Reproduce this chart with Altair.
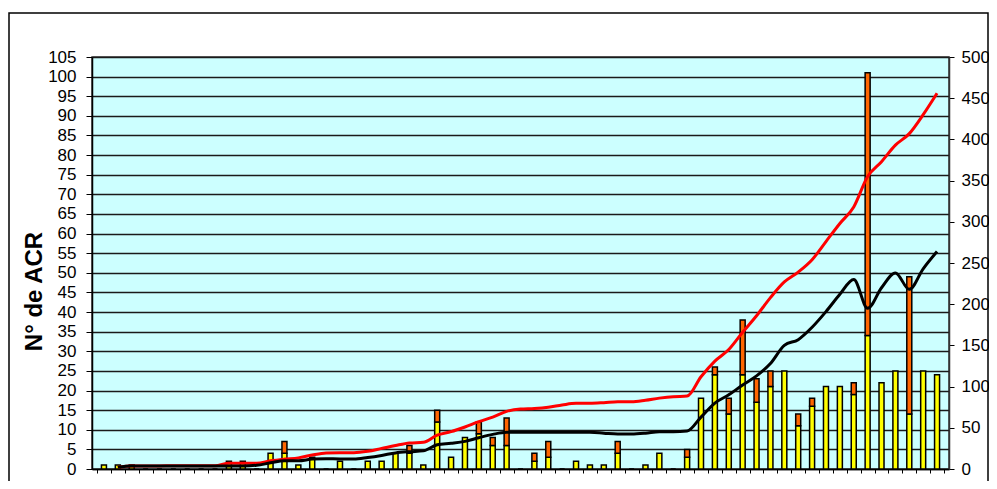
import altair as alt
import pandas as pd

# ---- data ----
yellow = [1, 1, 1, 0, 0, 0, 0, 0, 0, 2,
          2, 0, 4, 4, 1, 3, 0, 2, 0, 2,
          2, 4, 4, 1, 12, 3, 8, 9, 6, 6,
          0, 2, 3, 0, 2, 1, 1, 4, 0, 1,
          4, 0, 3, 18, 24, 14, 24, 17, 21, 25,
          11, 16, 21, 21, 19, 34, 22, 25, 14, 25,
          24]
orange = [0, 0, 0, 0, 0, 0, 0, 0, 0, 0,
          0, 0, 0, 3, 0, 0, 0, 0, 0, 0,
          0, 0, 2, 0, 3, 0, 0, 3, 2, 7,
          0, 2, 4, 0, 0, 0, 0, 3, 0, 0,
          0, 0, 2, 0, 2, 4, 14, 6, 4, 0,
          3, 2, 0, 0, 3, 67, 0, 0, 35, 0,
          0]
# lines (right axis), categories 2..61
red_line = [2, 3.6, 3.6, 3.6, 4, 4, 4, 4, 7, 7,
            7, 10, 12, 13.5, 17, 19.5, 19.8, 19.8, 21.5, 25,
            28.5, 31.5, 32.4, 41, 45.3, 51, 57.4, 63, 70, 72.8,
            73.5, 75, 77.7, 79.7, 79.7, 80.5, 81.7, 81.7, 83.5, 86,
            87.8, 88.5, 112, 131, 145, 166, 186, 208, 227, 239,
            254, 276, 298, 318, 355, 373, 393, 407, 430, 456]
black_line = [2, 3.6, 3.6, 3.6, 3.6, 3.6, 3.6, 3.6, 3.6, 3.6,
              4.5, 7.5, 10, 10, 12, 12.5, 12.1, 12.1, 14, 16.5,
              19.5, 21, 22, 29.5, 31.2, 33.5, 38, 42, 44.5, 44.5,
              44.5, 44.5, 44.5, 44.5, 44.5, 43.5, 42.5, 42.5, 43.5, 45.3,
              45.3, 46, 63, 80, 90, 102, 113, 128, 150, 157,
              172, 191, 212, 230, 195, 220, 238, 218, 243, 264]
left_ticks = list(range(0, 106, 5))
right_ticks = list(range(0, 501, 50))
y_title = "N° de ACR"

n_cat = len(yellow)
bars_df = pd.DataFrame({"cat": list(range(n_cat)), "yellow": yellow, "orange": orange})
bars_df["pos"] = bars_df["cat"] + 0.5
bars_df["base"] = 0
bars_df["top"] = bars_df["yellow"] + bars_df["orange"]

lines_df = pd.DataFrame({"cat": list(range(1, n_cat)), "red": red_line, "black": black_line})
lines_df["pos"] = lines_df["cat"] + 0.5

FONT = "Liberation Sans"

x_scale = alt.Scale(domain=[0, n_cat], nice=False, zero=False)
x_axis = alt.Axis(values=list(range(0, n_cat + 1)), labels=False, title=None, grid=False,
                  tickSize=4, tickColor="black", domainColor="black", domainWidth=1.5, tickWidth=1)

left_scale = alt.Scale(domain=[0, 105], nice=False)
left_axis = alt.Axis(values=left_ticks, grid=True, gridColor="#1a1a1a", gridWidth=1.5,
                     tickSize=6, tickColor="black", domainColor="black", domainWidth=1.5,
                     labelFont=FONT, labelFontSize=17, labelColor="black", labelPadding=10,
                     title=y_title, titleFont=FONT, titleFontSize=24, titleFontWeight="bold",
                     titleColor="black", titleAngle=270, titleX=-58, titleY=234,
                     titleAlign="center", titleBaseline="middle")

right_scale = alt.Scale(domain=[0, 500], nice=False)
right_axis = alt.Axis(orient="right", values=right_ticks, grid=False, tickSize=5,
                      tickColor="black", domainColor="#333333", domainWidth=1.5,
                      labelFont=FONT, labelFontSize=17, labelColor="black", labelPadding=7,
                      title=None)

yellow_bar = alt.Chart(bars_df).mark_bar(size=5, fill="#FFFF00", stroke="black",
                                         strokeWidth=1.5, orient="vertical").encode(
    x=alt.X("pos:Q", scale=x_scale, axis=x_axis),
    y=alt.Y("base:Q", scale=left_scale, axis=left_axis),
    y2="yellow:Q",
)
orange_bar = alt.Chart(bars_df).transform_filter("datum.orange > 0").mark_bar(
    size=5, fill="#FF6600", stroke="black", strokeWidth=1.5, orient="vertical").encode(
    x=alt.X("pos:Q", scale=x_scale, axis=x_axis),
    y=alt.Y("yellow:Q", scale=left_scale, axis=left_axis),
    y2="top:Q",
)
frame = alt.Chart(pd.DataFrame({"f": [0]})).mark_rect(
    fillOpacity=0, stroke="black", strokeWidth=1.5).encode(
    x=alt.value(-83), x2=alt.value(896), y=alt.value(-44), y2=alt.value(440))

bars = alt.layer(yellow_bar, orange_bar, frame)

red = alt.Chart(lines_df).mark_line(color="#FF0000", strokeWidth=3, interpolate="monotone").encode(
    x=alt.X("pos:Q", scale=x_scale, axis=x_axis),
    y=alt.Y("red:Q", scale=right_scale, axis=right_axis),
)
black = alt.Chart(lines_df).mark_line(color="#000000", strokeWidth=3, interpolate="monotone").encode(
    x=alt.X("pos:Q", scale=x_scale, axis=x_axis),
    y=alt.Y("black:Q", scale=right_scale, axis=right_axis),
)
lines = alt.layer(red, black)

chart = alt.layer(bars, lines).resolve_scale(y="independent").properties(
    width=857, height=412,
    padding={"left": 84, "top": 49, "right": 40, "bottom": 12},
    autosize=alt.AutoSizeParams(type="none"),
    background="white",
).configure_view(fill="#CCFFFF", stroke="#333333", strokeWidth=1.5)

chart.save("out.html", embed_options={"renderer": "svg", "actions": False})
